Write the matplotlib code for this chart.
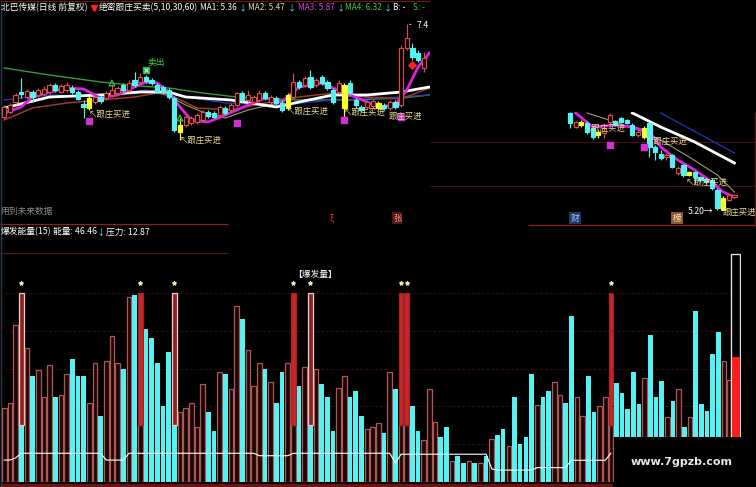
import matplotlib
matplotlib.use("Agg")
import matplotlib.pyplot as plt
from matplotlib.patches import Rectangle

plt.rcParams['font.family'] = ['Noto Sans CJK SC', 'DejaVu Sans']
plt.rcParams['axes.unicode_minus'] = False

W, H = 756, 487

# ---------------- main K-line data (北巴传媒 日线 前复权) ----------------
k_open = [5.56, 5.66, 5.86, 6.06, 5.96, 6.06, 6.00, 6.02, 6.06, 6.20,
          6.06, 6.10, 6.14, 6.06, 5.82, 5.74, 5.86, 5.96, 5.94, 6.00,
          6.04, 6.20, 6.10, 6.30, 6.26, 6.36, 6.30, 6.20, 6.16, 6.10,
          5.94, 5.26, 5.40, 5.44, 5.46, 5.50, 5.66, 5.64, 5.60, 5.74,
          5.70, 5.80, 6.04, 5.90, 5.86, 5.90, 6.04, 5.86, 5.94, 5.84,
          5.74, 5.96, 6.26, 6.20, 6.36, 6.20, 6.36, 6.26, 6.10, 6.06,
          5.74, 6.24, 5.90, 5.76, 5.76, 5.78, 5.74, 5.80, 5.74, 5.86,
          5.80, 6.94, 6.94, 6.84, 6.54]
k_close = [5.76, 5.80, 6.00, 6.02, 6.08, 5.96, 6.10, 6.12, 6.20, 6.10,
           6.18, 6.20, 6.06, 5.92, 5.76, 5.94, 5.96, 5.88, 6.04, 6.10,
           6.14, 6.10, 6.24, 6.20, 6.36, 6.28, 6.24, 6.06, 6.06, 5.96,
           5.30, 5.40, 5.56, 5.54, 5.60, 5.66, 5.58, 5.56, 5.76, 5.64,
           5.80, 6.04, 5.90, 6.00, 5.96, 6.04, 5.94, 5.96, 5.84, 5.70,
           6.00, 6.26, 6.16, 6.34, 6.16, 6.30, 6.24, 6.14, 5.86, 6.24,
           6.20, 6.04, 5.80, 5.70, 5.86, 5.88, 5.84, 5.74, 5.86, 5.76,
           6.94, 7.14, 6.76, 6.70, 6.74]
k_high = [5.80, 5.84, 6.04, 6.34, 6.12, 6.10, 6.14, 6.18, 6.24, 6.24,
          6.22, 6.26, 6.20, 6.10, 5.90, 5.98, 6.00, 6.00, 6.08, 6.22,
          6.18, 6.24, 6.30, 6.46, 6.44, 6.40, 6.34, 6.24, 6.20, 6.14,
          5.98, 5.54, 5.60, 5.58, 5.64, 5.70, 5.70, 5.68, 5.80, 5.78,
          5.84, 6.06, 6.08, 6.10, 6.00, 6.10, 6.08, 6.00, 5.98, 5.90,
          6.04, 6.44, 6.30, 6.38, 6.50, 6.34, 6.40, 6.30, 6.14, 6.30,
          6.24, 6.30, 5.94, 5.80, 5.90, 5.92, 5.88, 5.84, 5.90, 5.90,
          7.00, 7.42, 7.04, 6.90, 6.86]
k_low = [5.52, 5.62, 5.82, 5.94, 5.92, 5.86, 5.96, 5.98, 6.02, 6.06,
         6.04, 6.06, 6.02, 5.90, 5.54, 5.70, 5.82, 5.84, 5.90, 5.96,
         6.00, 6.06, 6.06, 6.16, 6.22, 6.24, 6.20, 6.04, 6.02, 5.92,
         5.26, 5.10, 5.36, 5.40, 5.42, 5.46, 5.54, 5.54, 5.56, 5.60,
         5.66, 5.76, 5.86, 5.86, 5.82, 5.86, 5.90, 5.82, 5.80, 5.66,
         5.70, 5.92, 6.12, 6.16, 6.12, 6.16, 6.20, 6.10, 5.82, 6.02,
         5.50, 6.00, 5.74, 5.66, 5.72, 5.74, 5.70, 5.70, 5.70, 5.72,
         5.76, 6.90, 6.70, 6.66, 6.46]
k_yellow = [16, 32, 51, 61, 67]          # 跟庄买进 candles (1-based)

ma_mag_x = [1, 4, 6, 9, 12, 15, 18, 21, 24, 26, 28, 30, 32, 34, 37, 40, 44, 47, 50,
            53, 57, 59, 62, 65, 67, 70, 72, 74, 76]
ma_mag_y = [5.64, 5.76, 5.96, 6.06, 6.14, 6.12, 5.94, 6.00, 6.16, 6.26, 6.24, 6.06, 5.76,
            5.50, 5.46, 5.60, 5.80, 5.94, 5.86, 6.16, 6.24, 6.14, 6.00, 5.86, 5.76, 5.80,
            6.10, 6.56, 6.84]
ma_white_x = [1, 9, 18, 25, 30, 33, 41, 49, 53, 59, 65, 71, 76]
ma_white_y = [5.74, 5.96, 6.00, 6.06, 6.06, 5.96, 5.90, 5.76, 5.86, 6.00, 6.00, 6.06, 6.16]
ma_brown_x = [1, 6, 12, 18, 24, 28, 31, 35, 41, 47, 53, 59, 65, 71, 76]
ma_brown_y = [5.50, 5.74, 5.84, 5.90, 5.96, 6.04, 5.96, 5.74, 5.70, 5.84, 5.96, 6.04, 5.96,
              5.92, 6.14]
ma_green_x = [1, 9, 18, 25, 30, 36, 42, 53, 62, 71, 76]
ma_green_y = [6.54, 6.40, 6.26, 6.18, 6.14, 6.04, 5.96, 5.90, 5.90, 5.94, 6.00]
ma_olive_x = [29, 33, 36, 40, 44, 50]
ma_olive_y = [6.04, 5.80, 5.66, 5.54, 5.70, 5.86]
ma_blue_x = [1, 9, 18, 26, 31, 40, 50, 59, 68, 76]
ma_blue_y = [5.90, 6.00, 5.96, 6.10, 6.00, 5.84, 5.80, 5.90, 5.94, 6.00]

sq_x = [16, 42, 61, 71]
sq_y = [5.48, 5.44, 5.50, 5.56]
sell_x = [26]
sell_y = [6.50]
uparrow_x = [20, 32]
uparrow_y = [6.24, 5.54]
diamond_x = [73]
diamond_y = [6.60]

# ---------------- 爆发能量(15) ----------------
energy = [39, 42, 83, 100, 71, 56, 59, 45, 62, 45,
          46, 57, 65, 56, 56, 42, 63, 35, 64, 77,
          63, 60, 98, 99, 100, 81, 76, 63, 40, 69,
          100, 37, 39, 42, 29, 52, 37, 27, 58, 57,
          49, 93, 86, 70, 51, 63, 60, 53, 42, 58,
          63, 100, 51, 61, 100, 60, 52, 45, 27, 50,
          56, 45, 48, 35, 28, 29, 31, 26, 58, 49,
          100, 100, 40, 27, 22, 49, 32, 24, 29, 11,
          14, 10, 11, 10, 10, 14, 23, 25, 28, 19,
          45, 20, 24, 57, 41, 45, 48, 53, 46, 42,
          88, 45, 35, 56, 37, 40, 45, 100]
bar_kind = list("hhhchchhhc" "hhccchhchh" "hchchccccc" "chhhhhcchc" "hhchhhchcc"
                "hhchchccch" "hccchhhchc" "hhcchhhcch" "cchchchcch" "cccchcchhc" "chhcchhh")
burst_idx = [4, 25, 31, 52, 55, 71, 72, 108]
burst_base = 30
pressure = [11.6, 11.6, 12.7, 15.2, 15.2, 15.2, 15.2, 15.2, 15.2, 15.2,
            15.2, 15.2, 15.2, 15.2, 15.2, 15.2, 15.2, 15.2, 11.6, 11.6,
            11.6, 11.6, 15.2, 15.2, 15.2, 15.2, 15.2, 15.2, 15.2, 15.2,
            15.2, 15.2, 15.2, 15.2, 15.2, 15.2, 15.2, 15.2, 15.2, 15.2,
            15.2, 15.2, 15.2, 15.2, 15.2, 13.9, 13.9, 13.9, 13.9, 13.9,
            13.9, 15.2, 15.2, 15.2, 15.2, 15.2, 15.2, 15.2, 15.2, 15.2,
            15.2, 15.2, 15.2, 15.2, 15.2, 15.2, 15.2, 15.2, 15.2, 10.1,
            14.7, 14.7, 14.7, 14.7, 14.7, 14.7, 14.7, 14.7, 14.7, 14.7,
            14.7, 14.7, 14.7, 14.7, 14.7, 14.7, 6.9, 6.3, 6.3, 6.3,
            6.3, 6.3, 6.3, 6.3, 7.6, 7.6, 7.6, 7.6, 7.6, 7.6,
            11.5, 11.5, 11.5, 11.5, 11.5, 11.5, 11.5, 15.2]

# ---------------- inset (pasted) energy bars ----------------
ins_energy = [28.4, 23.3, 14.7, 34.2, 17.6, 31.1, 54.0, 21.3, 29.6, 10.7,
              19.2, 25.4, 5.3, 10.7, 66.7, 17.6, 13.8, 43.9, 55.6, 40.2, 30.2]
ins_kind = list("ccccchccchchchccccchh")
ins_last_total = 96.8
ins_last_fill = 42.5

# ---------------- inset (pasted) K-line ----------------
i_open = [6.17, 6.03, 6.05, 6.07, 6.02, 5.95, 5.97, 6.08, 6.09, 6.12, 6.10, 6.05, 5.95, 5.93,
          6.07, 5.83, 5.76, 5.73, 5.75, 5.57, 5.65, 5.55, 5.58, 5.53, 5.51, 5.50, 5.40, 5.20,
          5.30, 5.33]
i_close = [6.07, 6.08, 6.08, 5.98, 5.93, 5.98, 6.02, 6.15, 6.05, 6.08, 6.07, 5.95, 5.98, 6.02,
           5.83, 5.78, 5.72, 5.75, 5.63, 5.62, 5.55, 5.58, 5.53, 5.50, 5.48, 5.42, 5.22, 5.32,
           5.35, 5.35]
i_high = [6.18, 6.09, 6.10, 6.09, 6.04, 6.00, 6.04, 6.17, 6.10, 6.13, 6.11, 6.07, 6.00, 6.04,
          6.08, 5.85, 5.80, 5.77, 5.76, 5.64, 5.66, 5.59, 5.59, 5.54, 5.52, 5.52, 5.42, 5.34,
          5.36, 5.36]
i_low = [6.02, 6.02, 6.03, 5.96, 5.91, 5.92, 5.92, 6.06, 6.04, 6.07, 6.06, 5.94, 5.93, 5.91,
         5.73, 5.70, 5.70, 5.70, 5.62, 5.55, 5.53, 5.54, 5.47, 5.48, 5.46, 5.40, 5.20, 5.21,
         5.29, 5.32]
i_yellow = [2, 5, 13, 21, 27]     # 0-based
i_mag_x = [1, 4, 8, 11, 14, 16, 19, 22, 25, 27, 29]
i_mag_y = [6.17, 6.03, 6.05, 6.03, 5.98, 5.83, 5.70, 5.60, 5.48, 5.38, 5.33]
i_white_x = [11, 16, 22, 29]
i_white_y = [6.17, 6.03, 5.88, 5.67]
i_blue_x = [16, 29]
i_blue_y = [6.17, 5.77]
i_olive_x = [3, 8, 13, 16, 21, 26, 29]
i_olive_y = [6.17, 6.08, 5.98, 5.90, 5.73, 5.55, 5.38]
i_sq_x = [7, 13]
i_sq_y = [5.85, 5.83]

# ---------------- colours ----------------
UP = '#dc4c4c'
DN = '#54f2f2'
YEL = '#ffff30'
HOL_EDGE = '#a85a55'
HOL_FACE = '#1e0606'
GRID = '#3c0b0b'
LBL = '#e8dc98'

fig = plt.figure(figsize=(W / 100, H / 100), dpi=100, facecolor='black')


def add_ax(x0, y0, x1, y1, z=1, face='none'):
    ax = fig.add_axes([x0 / W, 1 - y1 / H, (x1 - x0) / W, (y1 - y0) / H], zorder=z)
    ax.set_facecolor(face)
    ax.set_axis_off()
    return ax


def T(x, y, s, color='white', size=6.3, **kw):
    kw.setdefault('ha', 'left')
    kw.setdefault('va', 'center')
    fig.text(x / W, 1 - y / H, s, color=color, fontsize=size, zorder=40, **kw)


# background / decorative frame lines
ax_bg = add_ax(0, 0, W, H, z=-1, face='black')
ax_bg.set_xlim(0, W)
ax_bg.set_ylim(H, 0)
ax_bg.hlines([1], 0, 430, color='#6a1414', lw=0.8)
ax_bg.hlines([224], 0, 228, color='#8a2020', lw=0.9)
ax_bg.hlines([253], 0, 228, color='#5a1515', lw=0.9)
ax_bg.hlines([225], 528, 756, color='#8a2020', lw=0.9)
ax_bg.hlines([142, 186], 430, 756, color='#4a1010', lw=0.8)
ax_bg.vlines([755], 112, 225, color='#6a1414', lw=0.8)
ax_bg.hlines([485], 0, 612, color='#6a1414', lw=2.5)
ax_bg.vlines([0.5], 0, H, color='#2a3a4a', lw=1)
ax_bg.plot([94], [8], marker='v', color='#ff2020', ms=5)


def px2i(px, x0=4.2, step=5.67, first=1):
    return (px - x0) / step + first


def draw_candles(ax, xs, o, c, h, l, yel, w=0.75, lw=0.85):
    for x, oo, cc, hh, ll, yl in zip(xs, o, c, h, l, yel):
        up = cc >= oo
        if yl:
            col, face = YEL, YEL
        elif up:
            col, face = UP, 'black'
        else:
            col, face = DN, DN
        lo, hi = min(oo, cc), max(oo, cc)
        ax.vlines(x, ll, lo, color=col, lw=lw, zorder=4)
        ax.vlines(x, hi, hh, color=col, lw=lw, zorder=4)
        ax.add_patch(Rectangle((x - w / 2, lo), w, max(hi - lo, 0.01), facecolor=face,
                               edgecolor=col, lw=lw, zorder=5))


# ---------------- main price panel ----------------
ax_p = add_ax(0, 0, 430, 225, z=2)
ax_p.set_xlim(px2i(0), px2i(430))
ax_p.set_ylim(7.9 - 225 / 50, 7.9)
ax_p.plot(ma_green_x, ma_green_y, color='#3a9a3a', lw=1.0, zorder=2)
ax_p.plot(ma_blue_x, ma_blue_y, color='#2838c8', lw=0.9, zorder=2)
ax_p.plot(ma_olive_x, ma_olive_y, color='#a89868', lw=0.8, zorder=2)
ax_p.plot(ma_brown_x, ma_brown_y, color='#a0382c', lw=1.1, zorder=2)
ax_p.plot(ma_white_x, ma_white_y, color='white', lw=2.0, zorder=3)
ax_p.plot(ma_mag_x, ma_mag_y, color='#e020e0', lw=2.0, zorder=3)
nk = len(k_open)
draw_candles(ax_p, range(1, nk + 1), k_open, k_close, k_high, k_low,
             [i in k_yellow for i in range(1, nk + 1)])
ax_p.scatter(sq_x, sq_y, marker='s', s=14, color='#d030d0', zorder=6)
ax_p.scatter(sell_x, sell_y, marker='s', s=16, color='#30b050', zorder=6)
ax_p.scatter(sell_x, sell_y, marker='x', s=8, color='white', lw=0.6, zorder=7)
ax_p.scatter(uparrow_x, uparrow_y, marker='^', s=18, facecolor='none', edgecolor='#40d040',
             lw=0.8, zorder=6)
ax_p.scatter(diamond_x, diamond_y, marker='D', s=14, color='#ff2020', zorder=6)
ax_p.annotate("7.4", xy=(72, k_high[71]), xytext=(7, -1), textcoords='offset points',
              color='white', fontsize=6.3, va='center',
              arrowprops=dict(arrowstyle='-', color='white', lw=0.6))

# ---------------- pasted price inset ----------------
ax_pi = add_ax(543, 112, 741, 225, z=2)
ax_pi.set_xlim(px2i(543, 570, 5.67, 0), px2i(741, 570, 5.67, 0))
ax_pi.set_ylim(7.30 - 225 / 100, 7.30 - 112 / 100)
ax_pi.plot(i_blue_x, i_blue_y, color='#2030b0', lw=1.0, zorder=2)
ax_pi.plot(i_olive_x, i_olive_y, color='#a89868', lw=0.8, zorder=2)
ax_pi.plot(i_white_x, i_white_y, color='white', lw=2.0, zorder=3)
ax_pi.plot(i_mag_x, i_mag_y, color='#e020e0', lw=2.0, zorder=3)
ni = len(i_open)
draw_candles(ax_pi, range(ni), i_open, i_close, i_high, i_low,
             [i in i_yellow for i in range(ni)])
ax_pi.scatter(i_sq_x, i_sq_y, marker='s', s=14, color='#d030d0', zorder=6)

# ---------------- energy panel ----------------
ax_v = add_ax(0, 253, 614, 482, z=2)
ax_v.set_xlim(px2i(0), px2i(614))
ax_v.set_ylim(0, 229 / 1.89)
for g in [20, 40, 60, 80, 100]:
    ax_v.axhline(g, color=GRID, lw=0.7, ls=(0, (3, 2)), zorder=0)


def vbar(ax, x, y0, y1, kind, w=0.82):
    if kind == 'c':
        ax.add_patch(Rectangle((x - w / 2, y0), w, y1 - y0, facecolor=DN, edgecolor='none',
                               zorder=3))
    else:
        ax.add_patch(Rectangle((x - w / 2, y0), w, y1 - y0, facecolor=HOL_FACE,
                               edgecolor=HOL_EDGE, lw=0.9, zorder=3))


for i, (v, kind) in enumerate(zip(energy, bar_kind), start=1):
    if i in burst_idx:
        vbar(ax_v, i, 0, burst_base, kind)
        if kind == 'c':
            ax_v.add_patch(Rectangle((i - 0.41, burst_base), 0.82, v - burst_base,
                                     facecolor='#8c2424', edgecolor='#f2cccc', lw=0.9, zorder=3))
        else:
            ax_v.add_patch(Rectangle((i - 0.41, burst_base), 0.82, v - burst_base,
                                     facecolor='#c4282a', edgecolor='#a82020', lw=0.9, zorder=3))
    else:
        vbar(ax_v, i, 0, v, kind)
ax_v.plot(range(1, len(pressure) + 1), pressure, color='white', lw=0.8, zorder=4)
ax_v.scatter(burst_idx, [105.3] * len(burst_idx), marker='*', s=7, color='#f0e4a8', zorder=5)

# ---------------- pasted energy inset ----------------
ax_vi = add_ax(612, 253, 741, 437, z=3, face='black')
ax_vi.set_xlim(px2i(612, 616.2), px2i(741, 616.2))
ax_vi.set_ylim(0, 184 / 1.89)
off = (482 - 437) / 1.89
for g in [20, 40, 60, 80, 100]:
    if g - off > 0:
        ax_vi.axhline(g - off, color=GRID, lw=0.7, ls=(0, (3, 2)), zorder=0)
for k, (v, kind) in enumerate(zip(ins_energy, ins_kind), start=1):
    vbar(ax_vi, k, 0, v, kind)
big_x = len(ins_energy) + 1.05
ax_vi.add_patch(Rectangle((big_x - 0.8, 0), 1.6, ins_last_total, facecolor='black',
                          edgecolor='#e0e0e0', lw=1.0, zorder=4))
ax_vi.add_patch(Rectangle((big_x - 0.7, 0), 1.4, ins_last_fill, facecolor='#ff1c1c',
                          edgecolor='none', zorder=5))

# ---------------- texts ----------------
CY = '#40e8e8'
T(1, 8, "北巴传媒(日线 前复权)")
T(99, 8, "绝密跟庄买卖(5,10,30,60)")
T(200, 8, "MA1: 5.36", size=5.9)
T(239, 8, "↓", CY, 5.9)
T(248, 8, "MA2: 5.47", '#e0e0a0', 5.9)
T(288, 8, "↓", CY, 5.9)
T(298, 8, "MA3: 5.87", '#e040e0', 5.9)
T(337, 8, "↓", CY, 5.9)
T(345, 8, "MA4: 6.32", '#40d040', 5.9)
T(384, 8, "↓", CY, 5.9)
T(393, 8, "B: -", size=5.9)
T(413, 8, "S: -", '#40d040', 5.9)

# 跟庄买进 labels (main chart)
for (x, y) in [(89, 114), (180, 140), (287, 111), (344, 112)]:
    T(x, y, "↖跟庄买进", LBL, 6)
T(389, 116, "跟庄买进", LBL, 6)
T(147, 62, "卖出", '#40d040', 6.3)

# 跟庄买进 labels (pasted chart)
for (x, y) in [(584, 128), (646, 141), (686, 182)]:
    T(x, y, "↖跟庄买进", LBL, 6)
T(688, 212, "5.20→", 'white', 6.3)
T(723, 212, "跟庄买进", LBL, 6)

T(1, 211, "用到未来数据", '#8a8a8a', 6.3)
T(1, 232, "爆发能量(15)")
T(53, 232, "能量: 46.46")
T(97, 232, "↓", CY)
T(106, 232, "压力: 12.87")
T(315, 274, "【爆发量】", 'white', 6.3, ha='center')

T(330, 218, "ξ", '#ff3030', 6)
T(397, 218, "张", '#ff9080', 6, ha='center',
  bbox=dict(boxstyle='square,pad=0.15', facecolor='#501818', edgecolor='none'))
T(575, 218, "财", '#a8c8ff', 6.3, ha='center',
  bbox=dict(boxstyle='square,pad=0.15', facecolor='#203868', edgecolor='none'))
T(677, 218, "榜", '#ffe8c8', 6.3, ha='center',
  bbox=dict(boxstyle='square,pad=0.15', facecolor='#8a5a30', edgecolor='none'))

T(682, 462, "www.7gpzb.com", '#e8e8e8', 8, ha='center', fontweight='bold',
  family='DejaVu Sans')

fig.savefig("out.png", dpi=100, facecolor='black')
